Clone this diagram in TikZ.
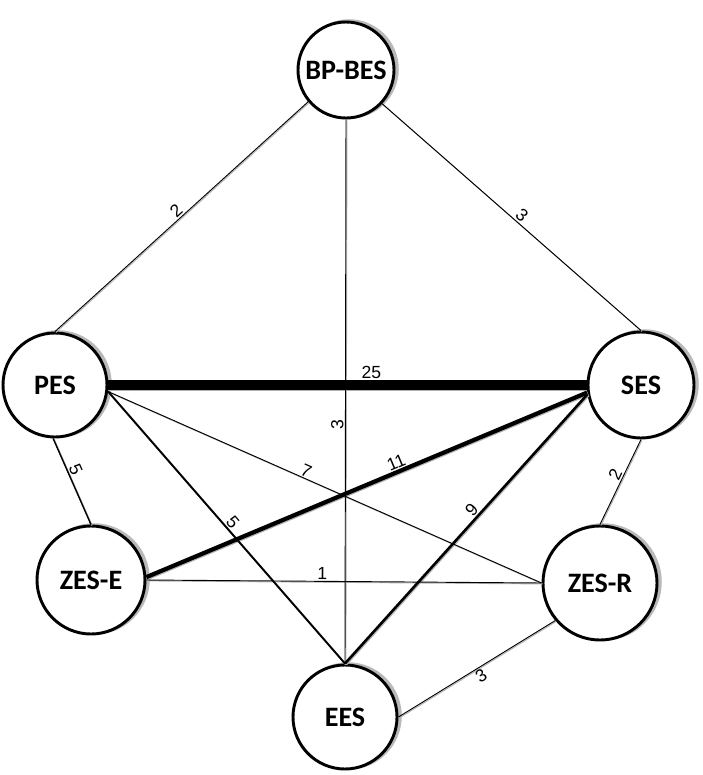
\documentclass[tikz,border=0pt]{standalone}
\usepackage{fontspec}
\setmainfont{Liberation Sans}
\newfontfamily\nodefont{Carlito}
\tikzset{
  nd/.style={circle, draw=black, fill=white, line width=2.5pt, inner sep=0pt,
    font=\nodefont\bfseries\fontsize{24}{28}\selectfont},
  shd/.style={draw=gray!55, line width=3pt},
  lab/.style={font=\fontsize{15}{18}\selectfont, sloped, inner sep=1.2pt},
  wthin/.style={line width=0.8pt},
  wmid/.style={line width=1.2pt},
  wmed/.style={line width=1.6pt},
  wstrong/.style={line width=2.2pt},
  wbold/.style={line width=3.6pt},
  wheavy/.style={line width=8.5pt},
}
\newif\ifunderlay
% #1 style, #2 from, #3 to, #4 label options, #5 label text
\newcommand\edgeline[5]{%
  \ifunderlay
    \draw[#1] (#2) -- (#3);
  \else
    \draw[#1] (#2) -- node[lab,#4]{#5} (#3);
  \fi}
\newcommand\alledges{%
  \edgeline{wthin}{pes.90}{bp.220}{above,pos=0.5}{2}
  \edgeline{wthin}{bp.317}{ses.90}{above,pos=0.52}{3}
  \edgeline{wthin}{ees.90}{bp.270}{above,pos=0.44}{3}
  \edgeline{wheavy}{pes.0}{ses.180}{above,pos=0.55}{25}
  \edgeline{wmid}{pes.268}{zese.90}{above,pos=0.4}{5}
  \edgeline{wmed}{pes.-7}{ees.90}{above,pos=0.5}{5}
  \edgeline{wthin}{pes.-7}{zesr.180}{above,pos=0.45}{7}
  \edgeline{wbold}{zese.3}{ses.188}{above,pos=0.575}{11}
  \edgeline{wstrong}{ees.90}{ses.190}{above,pos=0.55}{9}
  \edgeline{wthin}{zese.0}{zesr.180}{above,pos=0.445}{1}
  \edgeline{wthin}{zesr.90}{ses.270}{above,pos=0.55}{2}
  \edgeline{wthin}{ees.0}{zesr.220}{below,pos=0.5}{3}
}
\begin{document}
\begin{tikzpicture}[x=0.03cm,y=-0.03cm]
  \useasboundingbox (0,0) rectangle (703,775);
  % shadows
  \draw[shd] (349,69) circle[radius=1.44cm];
  \draw[shd] (58,384) circle[radius=1.56cm];
  \draw[shd] (644,384) circle[radius=1.59cm];
  \draw[shd] (94,579) circle[radius=1.62cm];
  \draw[shd] (603,582) circle[radius=1.71cm];
  \draw[shd] (348,716) circle[radius=1.56cm];
  % nodes
  \node[nd, minimum size=2.88cm] (bp) at (346,70) {BP-BES};
  \node[nd, minimum size=3.12cm] (pes) at (55,385) {PES};
  \node[nd, minimum size=3.18cm] (ses) at (641,385) {SES};
  \node[nd, minimum size=3.24cm] (zese) at (91,580) {ZES-E};
  \node[nd, minimum size=3.42cm] (zesr) at (600,583) {ZES-R};
  \node[nd, minimum size=3.12cm] (ees) at (345,717) {EES};
  % edges: gray underlay then black
  \underlaytrue
  \begin{scope}[transform canvas={xshift=0.8pt,yshift=-0.8pt}, color=gray!60]
    \alledges
  \end{scope}
  \underlayfalse
  \alledges
\end{tikzpicture}
\end{document}
